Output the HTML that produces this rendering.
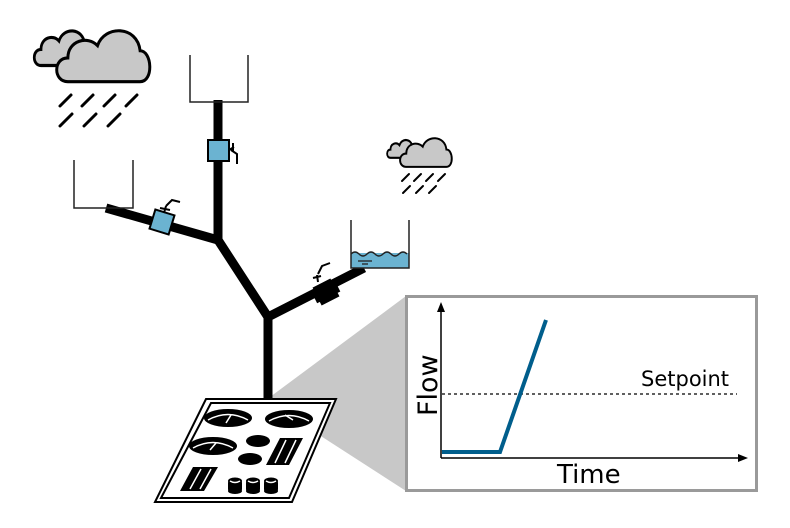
<!DOCTYPE html>
<html><head><style>html,body{margin:0;padding:0;background:#fff}svg{display:block}</style></head>
<body>
<svg width="790" height="528" viewBox="0 0 790 528" xmlns="http://www.w3.org/2000/svg" font-family="'DejaVu Sans','Liberation Sans',sans-serif">
<defs>
<path id="cl" d="M15,55 C0,55 0,32 15,32 C15,15 35,10 45,20 C52,0 85,0 88,25 C100,25 102,55 88,55 Z"/>
</defs>
<!-- gray wedge -->
<polygon points="270,397 406,296 406,491 296,420" fill="#c8c8c8"/>
<!-- chart -->
<rect x="406.5" y="296.5" width="350" height="194" fill="#fff" stroke="#9a9a9a" stroke-width="3"/>
<line x1="441" y1="458" x2="441" y2="310" stroke="#000" stroke-width="1.5"/>
<polygon points="441,302 437,312 445,312" fill="#000"/>
<line x1="441" y1="458" x2="740" y2="458" stroke="#000" stroke-width="1.5"/>
<polygon points="748,458 738,454 738,462" fill="#000"/>
<line x1="442" y1="394" x2="737" y2="394" stroke="#000" stroke-width="1.3" stroke-dasharray="3,3"/>
<polyline points="442,452 500,452 546,320" fill="none" stroke="#005e8c" stroke-width="4"/>
<text x="641" y="386" font-size="21">Setpoint</text>
<text x="557" y="483" font-size="26">Time</text>
<text transform="translate(437,416) rotate(-90)" font-size="27">Flow</text>
<!-- pipes -->
<g stroke="#000" stroke-width="9" fill="none" stroke-linejoin="miter">
<polyline points="268,400 268,317 218,240 218,100"/>
<line x1="218" y1="240" x2="106" y2="208"/>
<line x1="266" y1="318" x2="364" y2="268"/>
</g>
<!-- tanks -->
<g stroke="#222" stroke-width="1.5" fill="none">
<polyline points="190,55 190,102 248,102 248,55"/>
<polyline points="74,160 74,208 133,208 133,160"/>
</g>
<rect x="351" y="253" width="58" height="15" fill="#6bb3d1"/>
<path d="M351,254 q4,-4 8,0 t8,0 t8,0 t8,0 t8,0 t8,0 t8,0" fill="#6bb3d1" stroke="#222" stroke-width="1.3"/>
<polyline points="351,220 351,268 409,268 409,220" fill="none" stroke="#222" stroke-width="1.5"/>
<line x1="358" y1="261" x2="372" y2="261" stroke="#222" stroke-width="1.3"/>
<line x1="362" y1="264" x2="368" y2="264" stroke="#222" stroke-width="1.3"/>
<!-- valves -->
<rect x="208" y="140" width="21" height="21" fill="#6bb3d1" stroke="#000" stroke-width="2"/>
<path d="M229,150 l5,-3 M233,143 l0,9 M231,150 l6,4 l0,10" stroke="#000" stroke-width="2" fill="none"/>
<g transform="translate(162,222) rotate(17)">
<rect x="-10" y="-10" width="20" height="20" fill="#6bb3d1" stroke="#000" stroke-width="2"/>
</g>
<path d="M164,213 l2,-7 M160,208 l10,2 M166,206 l6,-6 l8,2" stroke="#000" stroke-width="2" fill="none"/>
<g transform="translate(326,292) rotate(-27)">
<rect x="-10" y="-10" width="20" height="20" fill="#000"/>
<rect x="-13" y="-6" width="26" height="12" fill="#000"/>
</g>
<path d="M318,282 l-1,-7 M313,278 l8,-2 M318,274 l4,-8 l8,-3" stroke="#000" stroke-width="2" fill="none"/>
<!-- stove -->
<polygon points="206,399 336,399 292,502 155,502" fill="#fff" stroke="#000" stroke-width="2"/>
<polygon points="211,403 330,403 289,498 161,498" fill="none" stroke="#000" stroke-width="2"/>
<g fill="#000">
<ellipse cx="228" cy="418" rx="24" ry="9"/>
<ellipse cx="289" cy="419" rx="24" ry="9"/>
<ellipse cx="213" cy="446" rx="24" ry="9"/>
<ellipse cx="258" cy="441" rx="12" ry="6"/>
<ellipse cx="250" cy="459" rx="12" ry="6"/>
<polygon points="280,438 303,438 289,465 266,465"/>
<polygon points="193,467 218,467 204,491 180,491"/>
<rect x="228" y="481" width="14" height="10" rx="2"/><ellipse cx="235" cy="481" rx="7" ry="3.5"/><ellipse cx="235" cy="491" rx="7" ry="3"/>
<rect x="246" y="481" width="14" height="10" rx="2"/><ellipse cx="253" cy="481" rx="7" ry="3.5"/><ellipse cx="253" cy="491" rx="7" ry="3"/>
<rect x="264" y="481" width="14" height="10" rx="2"/><ellipse cx="271" cy="481" rx="7" ry="3.5"/><ellipse cx="271" cy="491" rx="7" ry="3"/>
</g>
<g stroke="#fff" stroke-width="1.5" fill="none">
<path d="M208,420 q20,-11 40,0"/><path d="M269,421 q20,-11 40,0"/><path d="M193,448 q20,-11 40,0"/>
<path d="M226,423 l5,-8"/><path d="M285,415 l8,5"/><path d="M210,450 l6,-7"/>
<path d="M286,440 l-11,23 M296,440 l-11,23"/><path d="M201,469 l-11,20 M211,469 l-11,20"/>
<path d="M230,481 q5,3 10,0 M248,481 q5,3 10,0 M266,481 q5,3 10,0"/>
</g>
<!-- clouds -->
<g stroke="#000" fill="#c8c8c8">
<use href="#cl" transform="translate(32,27) scale(0.6,0.7)" stroke-width="4.5"/>
<use href="#cl" transform="translate(53,25) scale(0.99,1.03)" stroke-width="3"/>
<use href="#cl" transform="translate(386,138) scale(0.3,0.36)" stroke-width="6"/>
<use href="#cl" transform="translate(398,135) scale(0.55,0.58)" stroke-width="3.5"/>
</g>
<g stroke="#000" stroke-width="3" stroke-linecap="round">
<line x1="60" y1="106" x2="71" y2="95"/><line x1="82" y1="106" x2="93" y2="95"/><line x1="104" y1="106" x2="115" y2="95"/><line x1="126" y1="106" x2="137" y2="95"/>
<line x1="60" y1="126" x2="72" y2="114"/><line x1="84" y1="126" x2="96" y2="114"/><line x1="108" y1="126" x2="120" y2="114"/>
</g>
<g stroke="#000" stroke-width="2" stroke-linecap="round">
<line x1="402" y1="181" x2="409" y2="174"/><line x1="414" y1="181" x2="421" y2="174"/><line x1="426" y1="181" x2="433" y2="174"/><line x1="438" y1="181" x2="445" y2="174"/>
<line x1="403" y1="193" x2="410" y2="186"/><line x1="416" y1="193" x2="423" y2="186"/><line x1="429" y1="193" x2="436" y2="186"/>
</g>
</svg>
</body></html>
